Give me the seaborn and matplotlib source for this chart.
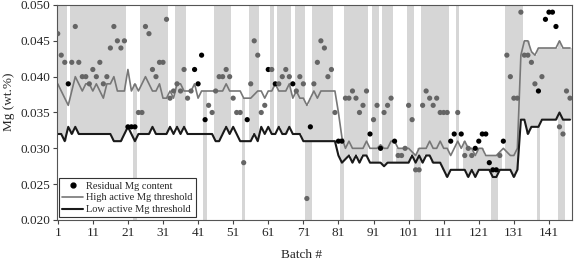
import numpy as np
import pandas as pd
import matplotlib
matplotlib.use("Agg")
import matplotlib.pyplot as plt
import seaborn as sns
from matplotlib.lines import Line2D
from matplotlib.ticker import FormatStrFormatter

# values, batch 1..147
batch = np.arange(1, 148)

residual_mg = [
    .046, .043, .042, .039, .042, .047, .042, .040, .040, .039,
    .041, .040, .042, .039, .040, .044, .047, .045, .044, .045,
    .033, .033, .033, .035, .035, .047, .046, .041, .040, .042,
    .042, .048, .037, .038, .039, .038, .041, .037, .038, .041,
    .039, .043, .034, .036, .035, .038, .040, .040, .041, .040,
    .037, .035, .035, .028, .034, .039, .045, .043, .035, .036,
    .041, .041, .039, .039, .040, .041, .040, .039, .038, .040,
    .039, .023, .033, .039, .042, .045, .044, .040, .041, .035,
    .031, .031, .037, .037, .038, .037, .035, .036, .038, .032,
    .034, .036, .030, .035, .036, .037, .031, .029, .029, .030,
    .036, .034, .027, .027, .036, .038, .037, .036, .037, .035,
    .035, .035, .031, .032, .035, .032, .029, .030, .029, .030,
    .031, .032, .032, .028, .027, .027, .029, .031, .043, .040,
    .037, .037, .049, .043, .043, .042, .039, .038, .040, .048,
    .049, .049, .047, .033, .032, .038, .037,
]

high_thr = [
    .039, .038, .037, .036, .038, .040, .039, .038, .039, .039,
    .038, .039, .038, .037, .039, .039, .040, .038, .038, .038,
    .041, .038, .039, .038, .039, .040, .039, .038, .038, .039,
    .037, .037, .038, .037, .039, .039, .038, .038, .038, .039,
    .037, .038, .038, .038, .038, .038, .038, .038, .039, .038,
    .038, .038, .038, .037, .037, .037, .0375, .038, .038, .037,
    .038, .038, .039, .038, .038, .038, .039, .037, .038, .037,
    .037, .036, .037, .038, .037, .038, .038, .038, .038, .038,
    .035, .0315, .030, .031, .030, .030, .030, .030, .031, .030,
    .030, .030, .0305, .030, .030, .031, .031, .030, .030, .030,
    .030, .0295, .029, .030, .030, .030, .031, .030, .030, .031,
    .030, .030, .029, .030, .031, .030, .031, .030, .030, .029,
    .030, .030, .029, .029, .029, .029, .0295, .030, .0295, .029,
    .029, .030, .043, .045, .045, .0435, .043, .044, .044, .044,
    .044, .044, .044, .045, .044, .044, .044,
]

low_thr = [
    .032, .032, .031, .033, .032, .033, .032, .032, .032, .032,
    .032, .032, .032, .032, .032, .032, .031, .031, .031, .032,
    .033, .032, .031, .032, .032, .032, .032, .033, .032, .032,
    .032, .032, .033, .032, .033, .032, .033, .032, .032, .032,
    .032, .032, .032, .032, .032, .031, .031, .032, .033, .032,
    .033, .032, .031, .031, .031, .031, .032, .031, .033, .032,
    .033, .032, .032, .033, .032, .032, .033, .032, .032, .032,
    .031, .031, .031, .031, .031, .031, .031, .031, .031, .031,
    .029, .028, .0285, .029, .028, .029, .028, .029, .029, .028,
    .028, .028, .028, .0275, .028, .028, .028, .028, .028, .028,
    .028, .029, .028, .029, .028, .029, .029, .028, .028, .028,
    .027, .026, .027, .027, .027, .027, .027, .026, .027, .026,
    .027, .027, .027, .027, .026, .026, .027, .027, .027, .027,
    .026, .027, .034, .034, .032, .033, .033, .033, .034, .034,
    .034, .034, .034, .035, .034, .034, .034,
]

# batches drawn with black dots (others grey)
black_batches = [4, 21, 22, 23, 40, 41, 42, 43, 55, 61, 63, 68, 73, 81, 82,
                 90, 93, 97, 113, 114, 116, 120, 121, 122, 123, 124, 125,
                 126, 128, 138, 140, 141, 142, 143]

# shaded batches: above low threshold / below high threshold / between both
upper_shade = ([1, 2, 3] + list(range(5, 21)) + list(range(25, 33)) +
               [35, 36, 37, 46, 47, 48, 49, 50, 56, 57, 58, 62, 64, 65, 66,
                67, 69, 70, 71] + list(range(74, 80)) + list(range(83, 90)) +
               [91, 92, 94, 95, 96, 101, 102] + list(range(105, 113)) +
               [115, 129, 130, 131, 132, 133])
lower_shade = [23, 43, 54, 72, 73, 82, 103, 104, 125, 126, 138, 144, 145]
middle_shade = ([98, 99, 100] + list(range(117, 125)) + [127, 134, 135,
                136, 137, 139, 140, 141, 142, 143, 146, 147])

df = pd.DataFrame({"batch": batch, "mg": residual_mg,
                   "high": high_thr, "low": low_thr})
df["dot"] = np.where(df["batch"].isin(black_batches), "black", "grey")

sns.set_style("white")
plt.rcParams["font.family"] = ["Liberation Serif", "DejaVu Serif"]

fig = plt.figure(figsize=(5.82, 2.63), dpi=100)
ax = fig.add_axes([0.098, 0.1635, 0.885, 0.8175])

ymin, ymax = 0.020, 0.050
shade = "#d6d6d6"

up = df[df["batch"].isin(upper_shade)]
ax.bar(up["batch"], ymax - up["low"], bottom=up["low"], width=1.0,
       color=shade, linewidth=0, zorder=0)
lo = df[df["batch"].isin(lower_shade)]
ax.bar(lo["batch"], lo["high"] - ymin, bottom=ymin, width=1.0,
       color=shade, linewidth=0, zorder=0)
md = df[df["batch"].isin(middle_shade)]
ax.bar(md["batch"], md["high"] - md["low"], bottom=md["low"], width=1.0,
       color=shade, linewidth=0, zorder=0)

sns.lineplot(data=df, x="batch", y="high", color="#777777", linewidth=1.2,
             ax=ax, zorder=2)
sns.lineplot(data=df, x="batch", y="low", color="#1a1a1a", linewidth=1.5,
             ax=ax, zorder=2)
sns.scatterplot(data=df, x="batch", y="mg", hue="dot",
                palette={"black": "#000000", "grey": "#656565"},
                s=14, linewidth=0, legend=False, ax=ax, zorder=3)

ax.set_xlim(0.8, 147.6)
ax.set_ylim(ymin, ymax)
ax.set_xticks(np.arange(1, 147, 10))
ax.set_yticks(np.arange(0.020, 0.0501, 0.005))
ax.yaxis.set_major_formatter(FormatStrFormatter("%.3f"))
ax.tick_params(bottom=True, left=True, direction="out", length=3,
               width=0.8, color="#444444", labelsize=9.5, pad=2)

for sp in ax.spines.values():
    sp.set_color("#555555")
    sp.set_linewidth(0.8)

ax.set_xlabel("Batch #", fontsize=9.5)
ax.set_ylabel("Mg (wt.%)", fontsize=9.5)
ax.xaxis.set_label_coords(0.475, -0.135)
ax.yaxis.set_label_coords(-0.082, 0.55)

handles = [
    Line2D([], [], marker="o", color="black", linestyle="none", markersize=3.5),
    Line2D([], [], color="#777777", linewidth=1.2),
    Line2D([], [], color="#1a1a1a", linewidth=1.5),
]
labels = ["Residual Mg content", "High active Mg threshold",
          "Low active Mg threshold"]
leg = ax.legend(handles, labels, loc="lower left", bbox_to_anchor=(0.004, 0.012),
                borderaxespad=0, fontsize=7.5, frameon=True, fancybox=False,
                framealpha=1, edgecolor="#333333", handlelength=2.0,
                handletextpad=0.3, labelspacing=0.25, borderpad=0.3)
leg.get_frame().set_linewidth(0.8)
leg.set_zorder(5)

fig.savefig("out.png", dpi=100)
